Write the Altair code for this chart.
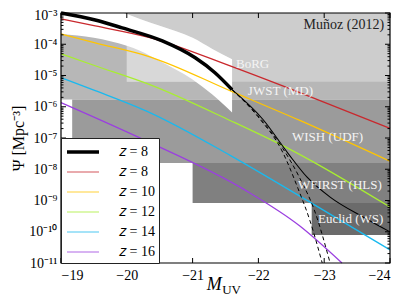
import altair as alt
import pandas as pd

# ---------------- data ----------------
x_ticks = [-19, -20, -21, -22, -23, -24]
y_major = [1e-3, 1e-4, 1e-5, 1e-6, 1e-7, 1e-8, 1e-9, 1e-10, 1e-11]
y_minor = [m * 10.0 ** k for k in range(-11, -3) for m in range(2, 10)]

# survey regions
region_names = ["JWST (MD)", "BoRG", "WISH (UDF)", "WFIRST (HLS)", "Euclid (WS)"]
region_m_faint = [-19.0, -20.0, -19.17, -21.0, -22.81]
region_m_bright = [-24.0, -24.0, -24.0, -24.0, -24.0]
region_psi_low = [1.7e-6, 6.3e-6, 1.58e-8, 8.3e-10, 7.9e-11]
region_psi_high = [1e-3, 1e-3, 1.7e-6, 1.58e-8, 8.3e-10]

# white band (and the light box beneath it)
band_m = [-19.0, -19.5, -20.0, -20.2, -20.5, -21.0, -21.3, -21.6]
band_low = [2.14e-4, 1.62e-4, 8.9e-5, 6.2e-5, 2.9e-5, 7.4e-6, 2.45e-6, 6.6e-7]
band_high = [2.8e-3, 1.66e-3, 9.3e-4, 6.4e-4, 3.9e-4, 1.6e-4, 7.1e-5, 3.3e-5]
box_floor = 6.3e-6
box_m_faint = -20.0

# lines
thick_m = [-19.0, -19.52, -19.93, -20.54, -21.04, -21.34, -21.6]
thick_psi = [1.0e-3, 5.98e-4, 3.33e-4, 1.28e-4, 3.69e-5, 1.23e-5, 3.53e-6]

thin_m = [-21.6, -22.07, -22.45, -22.74, -23.09, -23.59, -24.0]
thin_psi = [3.53e-6, 3.91e-7, 3.24e-8, 5.56e-9, 1.28e-9, 2.96e-10, 9.9e-11]

dash_a_m = [-21.6, -21.99, -22.37, -22.63, -22.85, -23.09]
dash_a_psi = [3.53e-6, 5.25e-7, 4.67e-8, 5.16e-9, 4.94e-10, 1e-11]
dash_b_m = [-21.6, -21.99, -22.37, -22.60, -22.78, -22.97]
dash_b_psi = [3.53e-6, 4.88e-7, 3.48e-8, 2.48e-9, 2.38e-10, 1e-11]

red_m = [-19.0, -19.52, -20.35, -21.6, -22.63, -24.0]
red_psi = [6.44e-4, 3.86e-4, 1.63e-4, 1.91e-5, 2.83e-6, 2.02e-7]
yellow_m = [-19.0, -19.52, -20.35, -21.6, -22.63, -24.0]
yellow_psi = [2.14e-4, 1.11e-4, 3.97e-5, 3.05e-6, 3.64e-7, 1.8e-8]
green_m = [-19.0, -19.52, -20.35, -21.57, -22.51, -24.0]
green_psi = [4.94e-5, 2.05e-5, 5.09e-6, 3.64e-7, 4.03e-8, 6.17e-10]
cyan_m = [-19.0, -19.52, -20.35, -21.57, -22.63, -24.0]
cyan_psi = [8.51e-6, 3.28e-6, 6.53e-7, 2.79e-8, 1.38e-9, 2.63e-11]
purple_m = [-19.0, -20.28, -21.8, -22.63, -23.27]
purple_psi = [1.36e-6, 8.39e-8, 2.14e-9, 1.53e-10, 1.0e-11]

SERIES = ["𝑧 = 8", "𝑧 = 8\u200b", "𝑧 = 10", "𝑧 = 12", "𝑧 = 14", "𝑧 = 16"]

label_text = ["BoRG", "JWST (MD)", "WISH (UDF)", "WFIRST (HLS)", "Euclid (WS)"]
label_m = [-21.66, -21.84, -22.51, -22.60, -22.906]
label_psi = [2.38e-5, 3.28e-6, 1.05e-7, 3.09e-9, 2.57e-10]

# ---------------- style ----------------
W, H = 329, 250
FONT = "Liberation Serif"
REGION_FILLS = ["#b7b7b7", "#cdcdcd", "#9b9b9b", "#808080", "#6b6b6b"]
BOX_FILL = "#d8d8d8"
LINE_COLORS = ["#000000", "#c9282d", "#ffc500", "#a8ee30", "#19b9ef", "#9b3fe0"]
LINE_WIDTHS = [3.5, 1.3, 1.3, 1.3, 1.3, 1.3]

xs = alt.Scale(domain=[-19, -24], nice=False, zero=False)
ys = alt.Scale(type="log", domain=[1e-11, 1e-3], nice=False)

sup = "['⁰','¹','²','³','⁴','⁵','⁶','⁷','⁸','⁹']"
e = "abs(round(log(datum.value)/LN10))"
label_expr = f"'10⁻' + ({e} >= 10 ? '¹' + {sup}[{e} - 10] : {sup}[{e}])"
TOP_TEST = "datum.value >= 0.0009"

XAXIS = alt.Axis(values=x_ticks, format="d", ticks=False, domain=False, grid=False,
                 labelPadding=5, labelFont=FONT, labelFontSize=14, labelColor="black",
                 title="", zindex=1)
YAXIS = alt.Axis(values=y_major, labelExpr=label_expr, ticks=False, domain=False, grid=False,
                 labelPadding=4, labelFont=FONT, labelFontSize=14, labelColor="black",
                 labelBaseline={"condition": {"test": TOP_TEST, "value": "top"}, "value": "middle"},
                 labelOffset={"condition": {"test": TOP_TEST, "value": -5}, "value": 0},
                 title="Ψ [Mpc⁻³]", titleFont=FONT, titleFontSize=16, titleFontWeight="normal",
                 titleColor="black", titlePadding=2, zindex=1)

LEG = alt.Legend(title=None, orient="none", legendX=0, legendY=125, direction="vertical",
                 fillColor="white", strokeColor="#222222", padding=4, rowPadding=4,
                 symbolType="M-2,0L2,0", symbolSize=256, symbolOffset=8,
                 symbolOpacity={"expr": "datum.index === 0 ? 1 : 0.6"},
                 labelFont=FONT, labelFontSize=14, labelOffset=26, labelColor="black",
                 labelExpr="datum.label + '\u00a0'", zindex=1)


def X(f):
    return alt.X(f, type="quantitative", scale=xs, axis=XAXIS)


def Y(f):
    return alt.Y(f, type="quantitative", scale=ys, axis=YAXIS)


# ---------------- frames ----------------
reg_df = pd.DataFrame({"name": region_names, "m1": region_m_faint, "m2": region_m_bright,
                       "p1": region_psi_low, "p2": region_psi_high})
band_df = pd.DataFrame({"M": band_m, "lo": band_low, "hi": band_high})
box_df = pd.DataFrame({"M": [m for m in band_m if m <= box_m_faint],
                       "hi": [h for m, h in zip(band_m, band_high) if m <= box_m_faint]})
box_df["lo"] = box_floor

rows = []
for s, ms, ps in zip(SERIES[1:], [red_m, yellow_m, green_m, cyan_m, purple_m],
                     [red_psi, yellow_psi, green_psi, cyan_psi, purple_psi]):
    for i, (m, p) in enumerate(zip(ms, ps)):
        rows.append({"series": s, "M": m, "Psi": p, "ord": i})
col_df = pd.DataFrame(rows)
thick_df = pd.DataFrame({"series": SERIES[0], "M": thick_m, "Psi": thick_psi,
                         "ord": list(range(len(thick_m)))})

rows = []
for g, ms, ps in [("thin", thin_m, thin_psi), ("a", dash_a_m, dash_a_psi), ("b", dash_b_m, dash_b_psi)]:
    for i, (m, p) in enumerate(zip(ms, ps)):
        rows.append({"g": g, "M": m, "Psi": p, "ord": i})
blk_df = pd.DataFrame(rows)

lab_df = pd.DataFrame({"t": label_text, "M": label_m, "Psi": label_psi})

color_enc = alt.Color("series:N", scale=alt.Scale(domain=SERIES, range=LINE_COLORS), legend=LEG)
sw_enc = alt.StrokeWidth("series:N", scale=alt.Scale(type="ordinal", domain=SERIES, range=LINE_WIDTHS), legend=LEG)

rects = alt.Chart(reg_df).mark_rect().encode(
    x=X("m1"), x2="m2", y=Y("p1"), y2="p2",
    fill=alt.Fill("name:N", scale=alt.Scale(domain=region_names, range=REGION_FILLS), legend=None),
)

box = alt.Chart(box_df).mark_area(color=BOX_FILL, interpolate="monotone").encode(
    x=X("M"), y=Y("lo"), y2="hi")

band = alt.Chart(band_df).mark_area(color="white", clip=True, interpolate="monotone").encode(
    x=X("M"), y=Y("lo"), y2="hi")

col_lines = alt.Chart(col_df).mark_line(interpolate="monotone").encode(
    x=X("M"), y=Y("Psi"), color=color_enc, strokeWidth=sw_enc, detail="series:N", order="ord:Q")

blk_thin = alt.Chart(blk_df).transform_filter("datum.g == 'thin'").mark_line(
    interpolate="monotone", color="black", strokeWidth=1.1).encode(
    x=X("M"), y=Y("Psi"), order="ord:Q")

blk_dash = alt.Chart(blk_df).transform_filter("datum.g != 'thin'").mark_line(
    interpolate="monotone", color="black", strokeWidth=1.0, strokeDash=[4, 3]).encode(
    x=X("M"), y=Y("Psi"), detail="g:N", order="ord:Q")

thick = alt.Chart(thick_df).mark_line(interpolate="monotone").encode(
    x=X("M"), y=Y("Psi"), color=color_enc, strokeWidth=sw_enc, order="ord:Q")

labels = alt.Chart(lab_df).mark_text(align="left", baseline="middle", font=FONT, fontSize=13,
                                     color="#f4f4f4").encode(
    x=X("M"), y=Y("Psi"), text="t:N")

credit = alt.Chart(pd.DataFrame({"t": ["Muñoz (2012)"], "M": [-23.91], "Psi": [4.15e-4]})).mark_text(
    align="right", baseline="middle", font=FONT, fontSize=14, color="#222222").encode(
    x=X("M"), y=Y("Psi"), text="t:N")


def yticks(vals, x0, x1):
    return alt.Chart(pd.DataFrame({"Psi": vals})).mark_rule(color="black", strokeWidth=1).encode(
        y=Y("Psi"), x=alt.value(x0), x2=alt.value(x1))


def xticks(y0, y1):
    return alt.Chart(pd.DataFrame({"M": x_ticks})).mark_rule(color="black", strokeWidth=1).encode(
        x=X("M"), y=alt.value(y0), y2=alt.value(y1))


ticks = [yticks(y_major, 0, 5), yticks(y_minor, 0, 2.5),
         yticks(y_major, W - 5, W), yticks(y_minor, W - 2.5, W),
         xticks(0, 5), xticks(H - 5, H)]

border = alt.Chart(pd.DataFrame({"a": [0]})).mark_rect(
    fillOpacity=0, stroke="black", strokeWidth=1.2).encode(
    x=alt.value(0), x2=alt.value(W), y=alt.value(0), y2=alt.value(H))

xt_m = alt.Chart(pd.DataFrame({"t": ["M"], "M": [-21.33]})).mark_text(
    align="center", baseline="alphabetic", font=FONT, fontSize=18, fontStyle="italic",
    color="black").encode(x=X("M"), y=alt.value(H + 27), text="t:N")
xt_uv = alt.Chart(pd.DataFrame({"t": ["UV"], "M": [-21.45]})).mark_text(
    align="left", baseline="alphabetic", font=FONT, fontSize=13, color="black").encode(
    x=X("M"), y=alt.value(H + 31), text="t:N")

chart = alt.layer(rects, box, band, col_lines, blk_thin, blk_dash, thick, labels, credit,
                  *ticks, border, xt_m, xt_uv).properties(
    width=W, height=H,
    autosize=alt.AutoSizeParams(type="none"),
    padding={"left": 53, "top": 5, "right": 9, "bottom": 33},
    background="white",
).configure_view(strokeWidth=0)

chart.save("out.html", embed_options={"renderer": "svg", "actions": False})
